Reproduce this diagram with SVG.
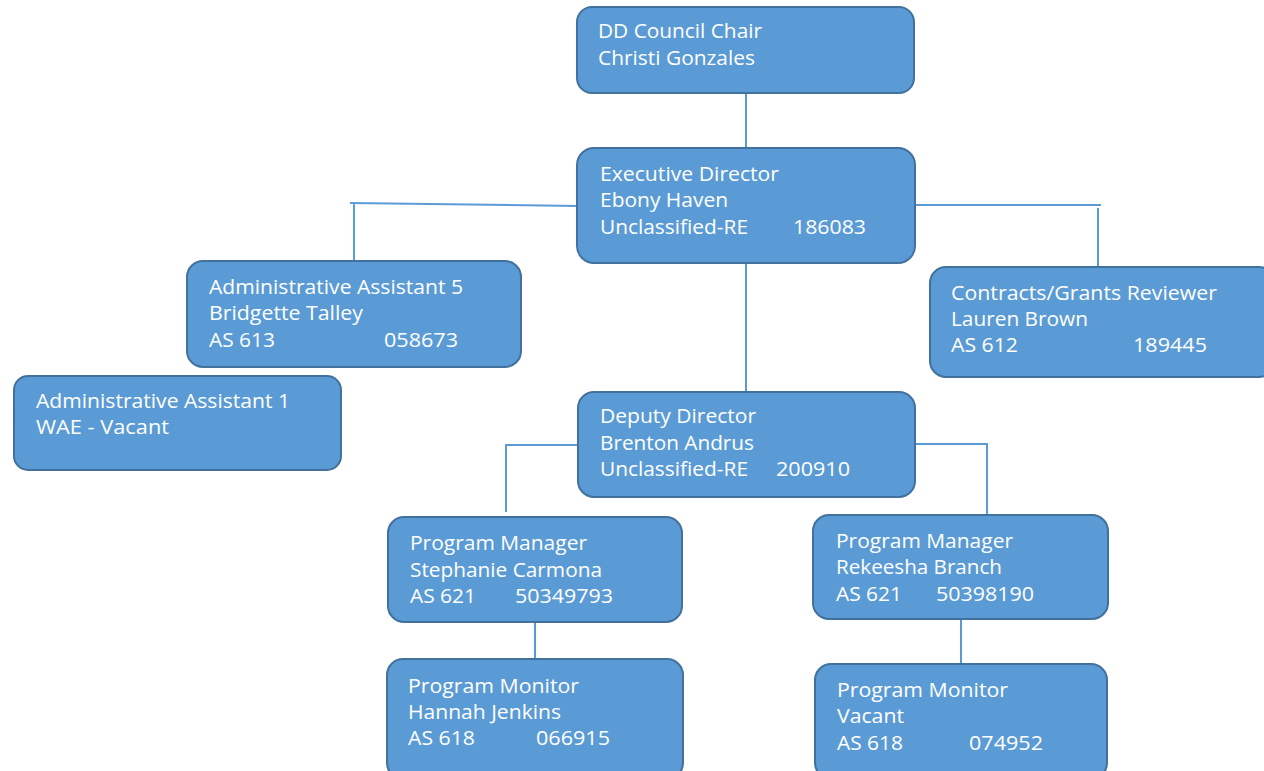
<svg xmlns="http://www.w3.org/2000/svg" width="1264" height="771" viewBox="0 0 1264 771">
<style>
.box{fill:#5B9BD5;stroke:#41719C;stroke-width:2}
.t{font-family:"Open Sans","Liberation Sans",sans-serif;font-size:20px;fill:#FFFFFF}
.c{fill:none;stroke:#5B9BD5;stroke-width:2}
</style>
<rect width="1264" height="771" fill="#FFFFFF"/>
<g id="connectors">
<path class="c" d="M746,93 V148"/>
<path class="c" d="M577,206 L350,203 M354,203 V261"/>
<path class="c" d="M915,205 H1101 M1098,208 V267"/>
<path class="c" d="M746,263 V392"/>
<path class="c" d="M578,445 H506 V512"/>
<path class="c" d="M915,444 H987 V516"/>
<path class="c" d="M535,622 V659"/>
<path class="c" d="M961,619 V664"/>
</g>
<g id="chair">
<rect class="box" x="577" y="7" width="337" height="86" rx="15"/>
<text class="t" x="598" y="38" textLength="164" lengthAdjust="spacingAndGlyphs">DD Council Chair</text>
<text class="t" x="598" y="65" textLength="157" lengthAdjust="spacingAndGlyphs">Christi Gonzales</text>
</g>
<g id="exec">
<rect class="box" x="577" y="148" width="338" height="115" rx="17"/>
<text class="t" x="600" y="181" textLength="179" lengthAdjust="spacingAndGlyphs">Executive Director</text>
<text class="t" x="600" y="207" textLength="128" lengthAdjust="spacingAndGlyphs">Ebony Haven</text>
<text class="t" x="600" y="234" textLength="148" lengthAdjust="spacingAndGlyphs">Unclassified-RE</text>
<text class="t" x="793" y="234" textLength="73" lengthAdjust="spacingAndGlyphs">186083</text>
</g>
<g id="admin5">
<rect class="box" x="187" y="261" width="334" height="106" rx="16"/>
<text class="t" x="209" y="294" textLength="254" lengthAdjust="spacingAndGlyphs">Administrative Assistant 5</text>
<text class="t" x="209" y="320" textLength="154" lengthAdjust="spacingAndGlyphs">Bridgette Talley</text>
<text class="t" x="209" y="347" textLength="66" lengthAdjust="spacingAndGlyphs">AS 613</text>
<text class="t" x="384" y="347" textLength="74" lengthAdjust="spacingAndGlyphs">058673</text>
</g>
<g id="admin1">
<rect class="box" x="14" y="376" width="327" height="94" rx="14"/>
<text class="t" x="36" y="408" textLength="254" lengthAdjust="spacingAndGlyphs">Administrative Assistant 1</text>
<text class="t" x="36" y="434" textLength="133" lengthAdjust="spacingAndGlyphs">WAE - Vacant</text>
</g>
<g id="contracts">
<rect class="box" x="930" y="267" width="345" height="110" rx="16"/>
<text class="t" x="951" y="300" textLength="266" lengthAdjust="spacingAndGlyphs">Contracts/Grants Reviewer</text>
<text class="t" x="951" y="326" textLength="137" lengthAdjust="spacingAndGlyphs">Lauren Brown</text>
<text class="t" x="951" y="352" textLength="67" lengthAdjust="spacingAndGlyphs">AS 612</text>
<text class="t" x="1133" y="352" textLength="74" lengthAdjust="spacingAndGlyphs">189445</text>
</g>
<g id="deputy">
<rect class="box" x="578" y="392" width="337" height="105" rx="16"/>
<text class="t" x="600" y="423" textLength="156" lengthAdjust="spacingAndGlyphs">Deputy Director</text>
<text class="t" x="600" y="450" textLength="154" lengthAdjust="spacingAndGlyphs">Brenton Andrus</text>
<text class="t" x="600" y="476" textLength="148" lengthAdjust="spacingAndGlyphs">Unclassified-RE</text>
<text class="t" x="776" y="476" textLength="74" lengthAdjust="spacingAndGlyphs">200910</text>
</g>
<g id="pm1">
<rect class="box" x="388" y="517" width="294" height="105" rx="16"/>
<text class="t" x="410" y="550" textLength="177" lengthAdjust="spacingAndGlyphs">Program Manager</text>
<text class="t" x="410" y="577" textLength="192" lengthAdjust="spacingAndGlyphs">Stephanie Carmona</text>
<text class="t" x="410" y="603" textLength="66" lengthAdjust="spacingAndGlyphs">AS 621</text>
<text class="t" x="515" y="603" textLength="98" lengthAdjust="spacingAndGlyphs">50349793</text>
</g>
<g id="pmon1">
<rect class="box" x="387" y="659" width="296" height="120" rx="16"/>
<text class="t" x="408" y="693" textLength="171" lengthAdjust="spacingAndGlyphs">Program Monitor</text>
<text class="t" x="408" y="719" textLength="153" lengthAdjust="spacingAndGlyphs">Hannah Jenkins</text>
<text class="t" x="408" y="745" textLength="67" lengthAdjust="spacingAndGlyphs">AS 618</text>
<text class="t" x="536" y="745" textLength="74" lengthAdjust="spacingAndGlyphs">066915</text>
</g>
<g id="pm2">
<rect class="box" x="813" y="515" width="295" height="104" rx="16"/>
<text class="t" x="836" y="548" textLength="177" lengthAdjust="spacingAndGlyphs">Program Manager</text>
<text class="t" x="836" y="574" textLength="166" lengthAdjust="spacingAndGlyphs">Rekeesha Branch</text>
<text class="t" x="836" y="601" textLength="66" lengthAdjust="spacingAndGlyphs">AS 621</text>
<text class="t" x="936" y="601" textLength="98" lengthAdjust="spacingAndGlyphs">50398190</text>
</g>
<g id="pmon2">
<rect class="box" x="815" y="664" width="292" height="115" rx="16"/>
<text class="t" x="837" y="697" textLength="171" lengthAdjust="spacingAndGlyphs">Program Monitor</text>
<text class="t" x="837" y="723" textLength="67" lengthAdjust="spacingAndGlyphs">Vacant</text>
<text class="t" x="837" y="750" textLength="66" lengthAdjust="spacingAndGlyphs">AS 618</text>
<text class="t" x="969" y="750" textLength="74" lengthAdjust="spacingAndGlyphs">074952</text>
</g>
</svg>
